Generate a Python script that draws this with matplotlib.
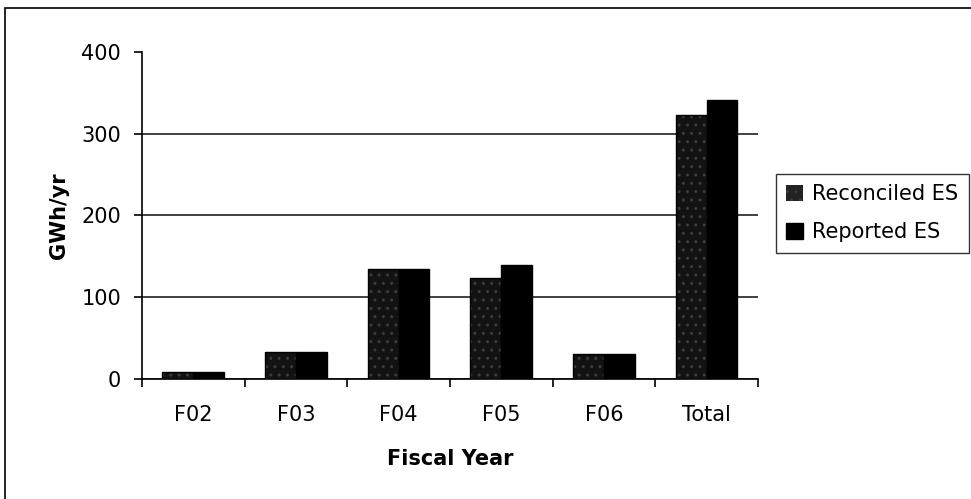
import numpy as np
import matplotlib.pyplot as plt
from matplotlib.patches import Rectangle

plt.rcParams['font.family'] = ['DejaVu Sans']
plt.rcParams['hatch.linewidth'] = 1.0

years = ['F02', 'F03', 'F04', 'F05', 'F06', 'Total']
reconciled = [9, 33, 135, 123, 31, 323]
reported = [9, 33, 135, 140, 31, 341]

fig = plt.figure(figsize=(9.71, 4.99), dpi=100)
ax = fig.add_axes([0.1462, 0.2405, 0.6344, 0.6553])

x = np.arange(len(years))
w = 0.3
dark = '#121212'
speckle = '#3c3c3c'

# near-black speckled bars for reconciled, solid black for reported
ax.bar(x - w / 2, reconciled, w, color=dark, edgecolor=speckle,
       hatch='..', linewidth=0, zorder=3)
ax.bar(x - w / 2, reconciled, w, fill=False, edgecolor='black',
       linewidth=1, zorder=4)
ax.bar(x + w / 2, reported, w, color='black', edgecolor='black',
       linewidth=1, zorder=3)

ax.set_xlim(-0.5, len(years) - 0.5)
ax.set_ylim(0, 400)
ax.set_yticks([0, 100, 200, 300, 400])
ax.set_xticks(x)
ax.set_xticklabels(years)
ax.set_xticks(np.arange(len(years) + 1) - 0.5, minor=True)
ax.tick_params(axis='x', which='major', length=0, labelsize=15, pad=19)
ax.tick_params(axis='x', which='minor', length=6, width=1.2, direction='out')
ax.tick_params(axis='y', length=6, width=1.2, direction='out', labelsize=15, pad=9)

ax.yaxis.grid(True, color='#333333', linewidth=1.3, zorder=0)
ax.set_axisbelow(True)
ax.get_ygridlines()[-1].set_visible(False)
for s in ['top', 'right']:
    ax.spines[s].set_visible(False)
ax.spines['left'].set_linewidth(1.2)
ax.spines['bottom'].set_linewidth(1.2)

ax.set_ylabel('GWh/yr', fontsize=15, fontweight='bold', labelpad=9)
ax.set_xlabel('Fiscal Year', fontsize=15, fontweight='bold', labelpad=17)

handles = [
    Rectangle((0, 0), 1, 1, facecolor='#222222', edgecolor=speckle, hatch='..', linewidth=0),
    Rectangle((0, 0), 1, 1, facecolor='black', edgecolor='black'),
]
leg = fig.legend(handles, ['Reconciled ES', 'Reported ES'],
                 loc='upper left', bbox_to_anchor=(776 / 971, 1 - 174 / 499),
                 fontsize=15, frameon=True, fancybox=False, borderaxespad=0,
                 handlelength=0.8, handleheight=0.8, handletextpad=0.45,
                 borderpad=0.5, labelspacing=0.85)
leg.get_frame().set_edgecolor('black')
leg.get_frame().set_linewidth(1)

# outer border, running off the right and bottom edges
fig.patches.append(Rectangle((5 / 971, -0.1), 1.1, 1.1 - 8 / 499,
                             transform=fig.transFigure, fill=False,
                             edgecolor='black', linewidth=1.2))

fig.savefig('out.png', dpi=100)
